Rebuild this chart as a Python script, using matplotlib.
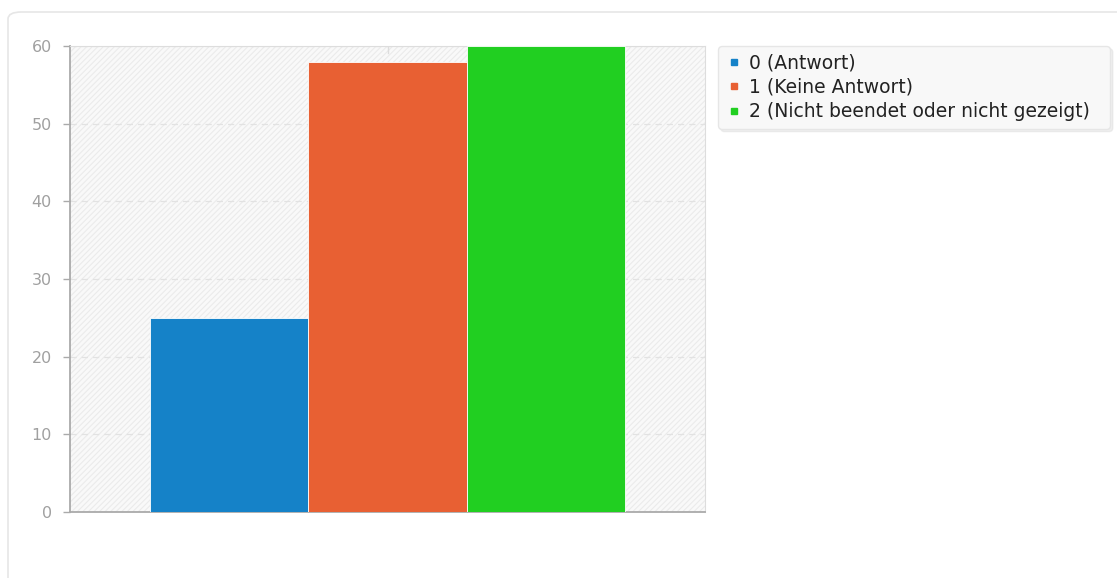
import matplotlib.pyplot as plt
import numpy as np
from matplotlib.patches import FancyBboxPatch, Rectangle

labels = ['0 (Antwort)', '1 (Keine Antwort)', '2 (Nicht beendet oder nicht gezeigt)']
values = [25, 58, 60]
colors = ['#1582c8', '#e86033', '#21cf21']
yticks = [0, 10, 20, 30, 40, 50, 60]

plt.rcParams['hatch.color'] = '#ebebeb'
plt.rcParams['hatch.linewidth'] = 0.8

fig = plt.figure(figsize=(11.17, 5.78), dpi=100)

# card border around the chart
card = FancyBboxPatch((8 / 1117, -0.1), 1.2, 1 - 12 / 578 + 0.1,
                      boxstyle='round,pad=0,rounding_size=0.012',
                      transform=fig.transFigure, facecolor='white',
                      edgecolor='#e6e6e6', linewidth=1.2, zorder=-5)
fig.patches.append(card)

ax = fig.add_axes([70 / 1117, 1 - 512 / 578, 635 / 1117, 466 / 578])
ax.set_zorder(2)
ax.set_facecolor('#f9f9f9')
ax.add_patch(Rectangle((0, 0), 1, 1, transform=ax.transAxes, facecolor='none',
                       edgecolor='#ebebeb', hatch='//////', linewidth=0, zorder=0))

w = 0.2494
pos = (np.arange(len(values)) - 1) * w
for p, v, c, l in zip(pos, values, colors, labels):
    ax.bar(p, v, w, color=c, edgecolor='white', linewidth=0.6, label=l, zorder=3)

ax.set_xlim(-0.5, 0.5)
ax.set_ylim(0, 60)
ax.set_yticks(yticks)
ax.set_xticks([])
ax.tick_params(axis='y', colors='#aaaaaa', labelcolor='#a0a0a0', labelsize=11.5,
               length=5, width=1, pad=8)
ax.yaxis.grid(True, linestyle=(0, (5, 4)), color='#e2e2e2', linewidth=0.9, zorder=1)
ax.spines['left'].set_color('#aaaaaa')
ax.spines['bottom'].set_color('#aaaaaa')
ax.spines['left'].set_linewidth(1.3)
ax.spines['bottom'].set_linewidth(1.3)
ax.spines['top'].set_color('#dddddd')
ax.spines['right'].set_color('#dddddd')
ax.axvline(0, ymin=0.985, ymax=1, color='#dddddd', linewidth=1, zorder=2)

handles = [plt.Line2D([], [], marker='s', linestyle='', color=c, markersize=5) for c in colors]
leg = fig.legend(handles, labels, loc='upper left',
                 bbox_to_anchor=(718 / 1117, 1 - 46 / 578, 392 / 1117, 0.0001), mode='expand',
                 frameon=True, fancybox=True, fontsize=13.5, handlelength=0.9,
                 handletextpad=0.35, labelspacing=0.29, borderpad=0.4, borderaxespad=0,
                 labelcolor='#222222', shadow={'color': '#dcdcdc', 'alpha': 0.45})
leg.get_frame().set_facecolor('#f8f8f8')
leg.get_frame().set_edgecolor('#e6e6e6')

fig.savefig('out.png', dpi=100)
